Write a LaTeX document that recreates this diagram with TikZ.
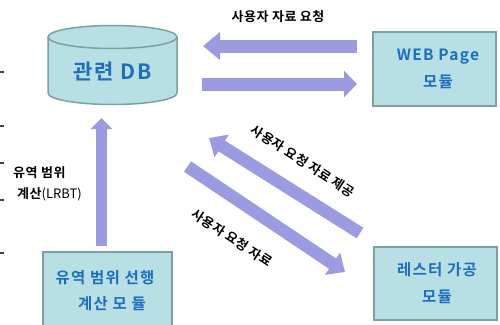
\documentclass[tikz,border=0pt]{standalone}
\usepackage{fontspec}
\usetikzlibrary{arrows.meta}
\newfontfamily\kr{Noto Sans CJK KR}
\newfontfamily\krl[LetterSpace=4]{Noto Sans CJK KR Bold}
\newfontfamily\krbs[LetterSpace=8]{Noto Sans CJK KR Bold}
\newfontfamily\krdb[LetterSpace=10]{Noto Sans CJK KR Bold}
\definecolor{boxfill}{RGB}{184,224,228}
\definecolor{boxline}{RGB}{125,160,160}
\definecolor{txtblue}{RGB}{30,110,190}
\definecolor{arrcol}{RGB}{155,155,225}
\tikzset{
  modbox/.style={draw=boxline, fill=boxfill, line width=1.5pt, rectangle, inner sep=0pt},
  boxtxt/.style={text=txtblue, font=\krbs\fontsize{15.5}{18}\selectfont, inner sep=0pt},
  lbl/.style={text=black, font=\krl\fontsize{13}{15}\selectfont, inner sep=0pt},
  bigarr/.style={draw=arrcol, line width=#1, line cap=butt},
  tick/.style={draw=black!75, line width=1.2pt}
}
\begin{document}
\begin{tikzpicture}[x=1pt,y=-1pt]
\useasboundingbox (0,0) rectangle (500,324);
\clip (0,0) rectangle (500,324);
% left edge ticks
\foreach \ty in {72,126,163,200,253} {
  \draw[tick] (0,\ty) -- (4,\ty);
}
% cylinder DB
\fill[boxfill] (48,37) -- (48,93) arc[start angle=180,end angle=360,x radius=64.5pt,y radius=11.5pt] -- (177,37) arc[start angle=0,end angle=180,x radius=64.5pt,y radius=11.5pt] -- cycle;
\draw[boxline, line width=1.5pt] (48,37) -- (48,93) arc[start angle=180,end angle=360,x radius=64.5pt,y radius=11.5pt] -- (177,37);
\draw[boxline, line width=1.5pt] (112.5,37) ellipse[x radius=64.5pt,y radius=11.5pt];
\node[boxtxt, font=\krdb\fontsize{21}{24}\selectfont] (db) at (112.5,71) {관련 DB};
% boxes
\node[modbox, minimum width=123pt, minimum height=74pt] (web) at (434.5,69) {};
\node[boxtxt] (webt1) at (438,57) {WEB Page};
\node[boxtxt] (webt2) at (438,82) {모듈};
\node[modbox, minimum width=123pt, minimum height=73pt] (ras) at (435.5,283.5) {};
\node[boxtxt] (rast1) at (437,270) {레스터 가공};
\node[boxtxt] (rast2) at (437,297) {모듈};
\node[modbox, minimum width=129pt, minimum height=84pt] (lrbt) at (107.5,294) {};
\node[boxtxt] (lrbtt1) at (105,278) {유역 범위 선행};
\node[boxtxt] (lrbtt2) at (112,304) {계산 모 듈};
% arrow endpoints
\coordinate (a1s) at (357,46);
\coordinate (a1e) at (203,46);
\coordinate (a2s) at (202,84);
\coordinate (a2e) at (357,84);
\coordinate (a3s) at (101.5,246);
\coordinate (a3e) at (101.5,118);
\coordinate (a4s) at (360,233);
\coordinate (a4e) at (209,138);
\coordinate (a5s) at (187.5,166.5);
\coordinate (a5e) at (345,272);
% arrows
\draw[bigarr=13pt, -{Triangle[length=17pt,width=27pt]}] (a1s) -- (a1e);
\draw[bigarr=13pt, -{Triangle[length=13pt,width=26pt]}] (a2s) -- (a2e);
\draw[bigarr=11.6pt, -{Triangle[length=11pt,width=21pt]}] (a3s) -- (a3e);
\draw[bigarr=12.5pt, -{Triangle[length=15pt,width=26pt]}] (a4s) -- (a4e);
\draw[bigarr=12.5pt, -{Triangle[length=15pt,width=26pt]}] (a5s) -- (a5e);
% labels
\node[lbl] (l1) at (278,17) {사용자 자료 요청};
\node[lbl, rotate=-33] (l2) at (303,161) {사용자 요청 자료 제공};
\node[lbl, rotate=-33] (l3) at (232,238) {사용자 요청 자료};
\node[lbl, anchor=west] (l4) at (13,172.5) {유역 범위};
\node[lbl, anchor=west] (l5) at (17,194) {계산{\kr(LRBT)}};
\end{tikzpicture}
\end{document}
